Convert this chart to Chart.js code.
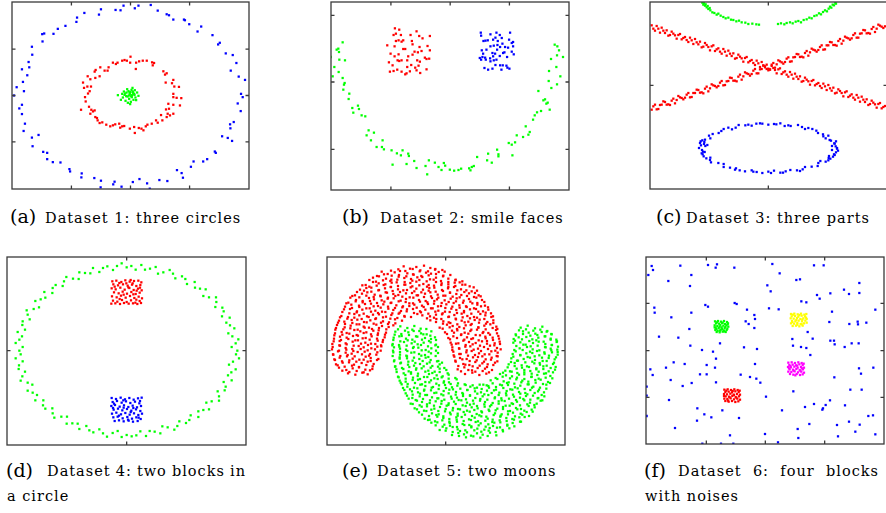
<!DOCTYPE html>
<html>
<head>
<meta charset="utf-8">
<script src="https://cdn.jsdelivr.net/npm/chart.js@4"></script>
<style>
  body { margin: 0; background: #fff; width: 886px; height: 513px; position: relative; overflow: hidden; }
  canvas { position: absolute; }
  .lab { position: absolute; font-family: "DejaVu Serif", serif; font-size: 19px; line-height: 1; white-space: nowrap; }
  .cap { position: absolute; font-family: "DejaVu Serif", serif; font-size: 14.5px; letter-spacing: 1px; line-height: 1; white-space: nowrap; }
  .just { display: flex; justify-content: space-between; }
</style>
</head>
<body>
<script>
// (a) three circles
const aOuter = [[-2.1,27.1],[2.4,27.1],[6.1,27.3],[1.3,26.3],[-4.5,25.8],[-3.0,25.7],[-8.9,26.0],[8.2,25.6],[10.9,24.5],[11.6,24.2],[-9.5,24.4],[-13.9,24.9],[-16.1,23.5],[-16.3,22.2],[12.9,22.9],[16.1,22.9],[16.4,22.7],[17.7,21.5],[-19.6,21.0],[-21.9,20.1],[-23.2,18.6],[-26.0,18.7],[-26.6,18.5],[-26.5,16.3],[21.3,20.8],[20.2,19.3],[24.7,18.2],[26.9,15.9],[26.4,15.4],[-29.7,14.7],[-29.6,12.3],[-30.7,10.1],[-30.5,8.5],[-32.7,7.9],[-31.1,6.1],[-32.4,4.1],[-34.3,2.5],[-32.1,1.3],[-35.1,0.0],[-33.5,-3.9],[-32.7,-2.8],[-32.7,-5.6],[-31.8,-8.5],[-32.2,-10.7],[-29.7,-12.7],[-27.7,-11.9],[-29.5,-15.3],[-26.3,-17.0],[-25.1,-17.3],[-25.1,-19.2],[-23.4,-20.1],[-21.1,-20.2],[-18.4,-22.2],[-18.2,-22.9],[-14.7,-23.5],[-14.8,-24.7],[-10.9,-24.9],[-8.9,-25.7],[-9.0,-27.7],[-4.8,-26.0],[-5.2,-26.8],[-2.7,-27.5],[0.7,-26.1],[2.7,-25.2],[5.0,-26.5],[5.8,-28.1],[8.7,-25.5],[11.1,-25.8],[14.0,-22.5],[15.4,-23.4],[15.8,-24.8],[18.2,-21.5],[19.0,-19.9],[21.9,-19.9],[23.1,-19.2],[25.4,-16.9],[25.7,-17.3],[27.6,-12.3],[29.3,-12.8],[30.6,-13.7],[30.0,-8.7],[30.1,-9.9],[31.1,-8.0],[33.2,-4.7],[32.3,-2.4],[33.3,0.5],[33.8,-0.5],[34.5,4.7],[32.6,5.7],[31.9,9.8],[30.2,7.5],[28.7,12.7],[30.8,12.2]];
const aMiddle = [[0,11.7],[-2.5,10.5],[-1.8,10.7],[-1.1,10.5],[-0.1,9.9],[1.7,9.9],[2.6,10.3],[3.7,10.5],[4.9,10.5],[6.5,10.0],[7.1,9.8],[6.7,9.1],[1.6,8.0],[-3.9,9.9],[-5.3,9.9],[-4.4,9.5],[-6.6,8.5],[-6.9,7.5],[-7.8,7.5],[-9.1,8.5],[-10.5,7.7],[-10.8,7.2],[-9.3,5.8],[-10.6,5.3],[-12.1,4.9],[-12.9,5.8],[-14.3,3.9],[-14.0,2.3],[-13.0,2.7],[-11.9,2.7],[-12.3,1.3],[-12.8,0.6],[-13.7,-0.5],[-13.5,-1.8],[-14.9,-4.3],[-12.5,-3.4],[-11.8,-4.3],[-11.3,-4.8],[-10.8,-4.5],[-12.1,-5.5],[-10.6,-6.5],[-10.1,-6.8],[-9.9,-7.5],[-9.3,-8.3],[-8.5,-8.1],[-7.3,-8.8],[-6.1,-9.3],[-5.3,-9.0],[-4.6,-8.7],[-3.4,-8.5],[-3.1,-9.7],[-2.5,-9.3],[-1.9,-9.2],[-0.2,-10.0],[1.1,-9.5],[1.3,-11.3],[2.5,-9.8],[3.3,-10.0],[3.9,-10.5],[4.6,-9.3],[5.1,-8.8],[6.4,-8.5],[7.7,-7.5],[8.2,-8.2],[9.6,-7.5],[9.2,-5.9],[10.9,-6.5],[11.2,-5.5],[11.9,-6.0],[12.9,-5.5],[11.6,-4.0],[10.7,-4.2],[11.4,-2.5],[12.9,-2.8],[14.9,-3.0],[13.9,-0.7],[12.9,-0.5],[15.3,-0.8],[12.9,0.5],[14.6,2.6],[13.2,2.7],[12.5,3.7],[12.9,4.7],[10.6,3.9],[9.9,7.3],[10.9,6.7],[10.4,6.3]];
const aInner = [[-0.6,1.3],[0.3,1.7],[-1.2,0.9],[0.8,0.8],[-0.2,0.4],[1.2,0.2],[-1.8,0.2],[-0.9,-0.3],[0.4,-0.5],[1.5,-0.6],[-2.3,-0.6],[-0.4,-1.0],[0.9,-1.3],[-1.5,-1.6],[0.1,-1.9],[2.0,0.9],[-2.9,-1.3],[-3.8,0.1],[-0.1,-2.6],[1.1,0.5],[-1.0,1.9],[0.6,2.3],[-0.3,0.9],[0.5,0.1],[-1.3,-0.2],[2.4,-0.1],[-2.0,1.2],[1.7,-1.4],[-0.8,-2.2],[0.2,-0.2],[-0.5,0.0],[0.7,1.2],[-1.6,0.6],[1.3,1.6],[-2.5,0.5],[0.0,1.0]];

// (b) smile faces
const bMouth = [[-35.9,7.5],[-35.3,1.7],[-34.8,4.5],[-34.1,9.7],[-33.6,10.0],[-33.4,9.0],[-33.3,6.7],[-33.5,3.0],[-32.3,11.9],[-32.3,1.2],[-31.9,-0.8],[-31.7,-0.3],[-32.1,-2.3],[-31.6,6.5],[-30.3,-3.5],[-30.5,-5.1],[-29.4,-7.8],[-29.1,-9.2],[-27.7,-7.1],[-27.4,-8.1],[-26.6,-10.0],[-25.5,-10.3],[-24.5,-14.5],[-25.1,-16.0],[-23.8,-17.5],[-22.9,-15.2],[-22.1,-19.5],[-20.5,-19.5],[-20.3,-17.5],[-19.9,-20.2],[-17.6,-20.5],[-17.3,-24.8],[-16.0,-21.4],[-14.8,-22.0],[-14.3,-20.5],[-12.6,-21.5],[-12.4,-22.2],[-13.1,-24.6],[-10.8,-23.7],[-10.1,-25.8],[-7.4,-25.2],[-6.9,-27.7],[-6.4,-23.5],[-4.6,-24.2],[-3.5,-25.5],[-2.6,-26.4],[-1.9,-24.3],[-1.5,-25.1],[-0.1,-26.3],[1.2,-26.6],[2.5,-26.4],[3.3,-26.0],[5.7,-25.9],[6.1,-26.5],[6.5,-25.5],[7.1,-25.2],[8.1,-22.5],[11.1,-23.5],[11.4,-21.5],[12.5,-24.2],[14.1,-20.3],[14.5,-22.3],[14.5,-21.7],[17.6,-18.3],[18.5,-18.8],[18.7,-22.0],[19.5,-18.1],[20.0,-16.0],[21.9,-16.5],[22.7,-13.3],[23.5,-15.8],[23.9,-15.0],[24.9,-11.3],[25.4,-10.0],[26.1,-9.1],[27.3,-8.7],[28.0,-5.5],[28.5,-5.2],[29.3,-6.2],[29.9,-8.3],[28.9,-6.5],[26.5,-2.7],[29.6,0.3],[29.7,3.3],[30.4,-1.8],[30.3,6.9],[31.4,11.2],[32.2,10.7],[32.1,8.0],[32.7,9.5],[31.9,4.5],[33.1,1.7],[32.1,-0.7],[33.9,7.5]];
const bLeftEye = [[-16.6,16.1],[-15.3,15.7],[-16.3,14.5],[-14.8,14.1],[-17.0,14.1],[-11.9,14.1],[-10.1,15.2],[-9.3,13.8],[-6.1,13.8],[-14.1,12.5],[-15.5,12.5],[-16.3,12.3],[-14.6,12.1],[-11.5,12.3],[-8.3,13.1],[-18.9,11.0],[-16.7,10.7],[-14.1,9.9],[-13.5,9.9],[-11.3,11.3],[-9.2,10.5],[-10.7,9.1],[-9.7,8.9],[-6.8,10.8],[-17.9,8.5],[-15.5,8.3],[-11.3,8.2],[-8.6,9.3],[-6.1,9.5],[-16.7,7.7],[-15.8,6.5],[-14.6,6.5],[-12.6,7.7],[-12.9,6.5],[-9.9,6.5],[-9.1,6.1],[-7.6,7.3],[-7.1,6.9],[-6.3,7.0],[-18.4,5.9],[-15.3,6.3],[-11.7,5.1],[-10.5,4.3],[-9.5,4.9],[-7.1,3.8],[-18.1,3.1],[-17.0,3.3],[-15.9,3.7],[-14.6,3.1],[-13.5,2.3],[-13.1,2.6],[-12.1,3.2],[-10.1,3.5],[-9.0,2.7],[-12.9,4.5],[-17.3,5.0]];
const bRightEye = [[9.2,14.8],[9.3,13.9],[10.0,12.3],[10.6,12.4],[12.1,14.3],[13.9,14.8],[13.6,13.3],[14.9,14.1],[15.5,13.2],[18.0,14.8],[17.7,12.7],[18.9,12.0],[18.5,11.7],[11.3,12.5],[12.9,12.7],[14.3,12.3],[15.7,11.5],[12.1,10.7],[13.1,10.9],[14.2,11.1],[15.0,10.5],[16.5,10.5],[17.4,10.3],[18.9,10.7],[9.5,9.5],[10.9,9.7],[12.7,8.7],[13.5,8.5],[15.9,8.7],[16.3,8.9],[18.5,9.1],[19.1,8.3],[8.9,7.2],[9.7,7.5],[10.5,7.3],[12.0,7.1],[12.9,7.7],[13.9,6.7],[14.9,7.8],[17.1,7.5],[9.3,6.7],[12.1,6.2],[13.1,6.5],[10.7,6.7],[15.0,5.0],[15.8,5.0],[17.2,4.3],[17.8,4.0],[10.3,4.2],[11.4,3.7],[12.7,4.0],[13.6,5.1],[15.4,3.7],[16.9,4.9],[9.9,8.5],[14.1,9.7]];

// (c) three parts
const cArc = [[-19.8,24.8],[-19.5,24.2],[-19.3,24.6],[-19.0,23.9],[-18.8,24.3],[-18.5,23.4],[-18.2,23.8],[-18.0,22.9],[-17.6,23.2],[-17.4,22.5],[-16.8,21.9],[-16.2,21.7],[-15.5,21.2],[-15.0,21.5],[-14.3,20.9],[-13.5,20.5],[-12.8,20.1],[-12.0,20.3],[-11.2,19.7],[-10.5,19.6],[-9.6,19.2],[-8.8,19.4],[-8.0,18.9],[-6.9,18.8],[-6.0,18.4],[-4.8,18.5],[-3.6,18.3],[-2.8,18.2],[2.9,18.4],[3.8,18.6],[4.8,18.3],[5.5,18.7],[6.5,18.9],[7.3,18.6],[8.2,19.1],[9.0,19.3],[9.8,18.9],[10.6,19.6],[11.5,19.8],[12.3,20.3],[13.0,20.1],[13.8,20.8],[14.5,21.0],[15.2,21.6],[15.8,21.3],[16.4,22.0],[17.0,22.5],[17.6,22.2],[18.1,23.0],[18.5,23.6],[18.9,23.3],[19.3,24.2],[19.7,24.0],[20.1,24.7],[20.3,24.5]];
const cFalling = [[-35,18.0],[-34,16.4],[-33,17.0],[-32,17.3],[-31,15.7],[-30,14.9],[-29,16.1],[-28,15.0],[-27,15.1],[-26,13.8],[-25,14.5],[-24,13.0],[-23,13.5],[-22,13.9],[-21,12.3],[-20,11.4],[-19,12.7],[-18,11.5],[-17,11.7],[-16,10.3],[-15,11.1],[-14,9.5],[-13,10.1],[-12,10.4],[-11,8.8],[-10,8.0],[-9,9.2],[-8,8.1],[-7,8.2],[-6,6.9],[-5,7.6],[-4,6.1],[-3,6.6],[-2,7.0],[-1,5.4],[0,4.5],[1,5.8],[2,4.6],[3,4.8],[4,3.4],[5,4.2],[6,2.6],[7,3.2],[8,3.5],[9,1.9],[10,1.1],[11,2.3],[12,1.2],[13,1.3],[14,0.0],[15,0.7],[16,-0.8],[17,-0.3],[18,0.1],[19,-1.6],[20,-2.4],[21,-1.2],[22,-2.3],[23,-2.1],[24,-3.5],[25,-2.7],[26,-4.3],[27,-3.7],[28,-3.4],[29,-5.0],[30,-5.9],[31,-4.6],[32,-5.7],[33,-5.6],[34,-6.9],[35,-6.2],
  [-34.5,17.0],[-33.5,17.8],[-32.5,15.8],[-31.5,16.4],[-30.5,16.5],[-29.5,15.1],[-28.5,15.5],[-27.5,14.0],[-26.5,15.4],[-25.5,14.2],[-24.5,13.6],[-23.5,14.3],[-22.5,12.4],[-21.5,12.9],[-20.5,13.1],[-19.5,11.6],[-18.5,12.1],[-17.5,10.5],[-16.5,12.0],[-15.5,10.8],[-14.5,10.1],[-13.5,10.9],[-12.5,8.9],[-11.5,9.5],[-10.5,9.6],[-9.5,8.2],[-8.5,8.6],[-7.5,7.1],[-6.5,8.5],[-5.5,7.3],[-4.5,6.7],[-3.5,7.4],[-2.5,5.5],[-1.5,6.0],[-0.5,6.2],[0.5,4.7],[1.5,5.2],[2.5,3.6],[3.5,5.1],[4.5,3.9],[5.5,3.2],[6.5,4.0],[7.5,2.0],[8.5,2.6],[9.5,2.7],[10.5,1.3],[11.5,1.7],[12.5,0.2],[13.5,1.6],[14.5,0.4],[15.5,-0.2],[16.5,0.5],[17.5,-1.4],[18.5,-0.9],[19.5,-0.7],[20.5,-2.2],[21.5,-1.7],[22.5,-3.3],[23.5,-1.8],[24.5,-3.1],[25.5,-3.7],[26.5,-2.9],[27.5,-4.9],[28.5,-4.3],[29.5,-4.2],[30.5,-5.6],[31.5,-5.2],[32.5,-6.7],[33.5,-5.3],[34.5,-6.5]];
const cRising = [[-35,-7.3],[-34,-5.8],[-33,-7.1],[-32,-5.8],[-31,-5.0],[-30,-5.7],[-29,-4.6],[-28,-5.4],[-27,-3.2],[-26,-3.8],[-25,-3.7],[-24,-2.3],[-23,-3.5],[-22,-2.3],[-21,-1.4],[-20,-2.1],[-19,-1.0],[-18,-1.8],[-17,0.3],[-16,-0.2],[-15,-0.2],[-14,1.3],[-13,0.1],[-12,1.3],[-11,2.2],[-10,1.4],[-9,2.6],[-8,1.7],[-7,3.9],[-6,3.4],[-5,3.4],[-4,4.9],[-3,3.6],[-2,4.9],[-1,5.7],[0,5.0],[1,6.2],[2,5.3],[3,7.5],[4,6.9],[5,7.0],[6,8.4],[7,7.2],[8,8.5],[9,9.3],[10,8.6],[11,9.7],[12,8.9],[13,11.0],[14,10.5],[15,10.6],[16,12.0],[17,10.8],[18,12.0],[19,12.9],[20,12.1],[21,13.3],[22,12.5],[23,14.6],[24,14.1],[25,14.1],[26,15.6],[27,14.3],[28,15.6],[29,16.5],[30,15.7],[31,16.9],[32,16.0],[33,18.2],[34,17.6],[35,17.7],
  [-34.5,-6.3],[-33.5,-7.2],[-32.5,-5.9],[-31.5,-4.8],[-30.5,-5.8],[-29.5,-5.9],[-28.5,-4.0],[-27.5,-4.4],[-26.5,-3.6],[-25.5,-4.2],[-24.5,-2.8],[-23.5,-3.6],[-22.5,-2.3],[-21.5,-1.3],[-20.5,-2.2],[-19.5,-2.4],[-18.5,-0.4],[-17.5,-0.9],[-16.5,0.0],[-15.5,-0.6],[-14.5,0.8],[-13.5,0.0],[-12.5,1.2],[-11.5,2.3],[-10.5,1.4],[-9.5,1.2],[-8.5,3.2],[-7.5,2.7],[-6.5,3.6],[-5.5,2.9],[-4.5,4.4],[-3.5,3.6],[-2.5,4.8],[-1.5,5.9],[-0.5,4.9],[0.5,4.8],[1.5,6.7],[2.5,6.3],[3.5,7.2],[4.5,6.5],[5.5,8.0],[6.5,7.1],[7.5,8.4],[8.5,9.4],[9.5,8.5],[10.5,8.4],[11.5,10.3],[12.5,9.9],[13.5,10.7],[14.5,10.1],[15.5,11.5],[16.5,10.7],[17.5,12.0],[18.5,13.0],[19.5,12.1],[20.5,11.9],[21.5,13.9],[22.5,13.4],[23.5,14.3],[24.5,13.7],[25.5,15.1],[26.5,14.3],[27.5,15.5],[28.5,16.6],[29.5,15.6],[30.5,15.5],[31.5,17.5],[32.5,17.0],[33.5,17.9],[34.5,17.2]];
const cRing = [[20.6,-18.8],[19.1,-18.2],[19.9,-17.5],[20.3,-16.8],[18.4,-16.4],[17.2,-15.9],[18.0,-15.1],[16.4,-14.7],[14.9,-14.3],[14.4,-13.6],[13.2,-13.1],[11.0,-13.1],[10.1,-12.5],[8.9,-11.9],[6.7,-12.2],[4.9,-12.2],[3.6,-11.4],[1.7,-11.6],[0.0,-11.8],[-1.8,-11.5],[-3.6,-11.5],[-5.0,-12.1],[-6.9,-12.0],[-8.9,-11.9],[-9.8,-12.7],[-10.9,-13.2],[-13.4,-13.1],[-14.1,-13.7],[-14.9,-14.3],[-16.7,-14.6],[-17.8,-15.1],[-17.4,-15.9],[-19.0,-16.3],[-20.3,-16.8],[-19.3,-17.6],[-18.9,-18.2],[-20.8,-18.8],[-19.9,-19.4],[-19.1,-20.0],[-19.7,-20.7],[-19.4,-21.3],[-17.4,-21.7],[-17.5,-22.4],[-17.2,-23.1],[-15.0,-23.3],[-13.4,-23.6],[-13.4,-24.5],[-11.5,-24.7],[-9.7,-24.9],[-8.6,-25.5],[-7.0,-25.8],[-5.0,-25.5],[-3.5,-26.0],[-1.8,-26.3],[0.0,-25.9],[1.7,-25.6],[3.6,-26.2],[5.2,-25.8],[6.6,-25.4],[8.6,-25.5],[10.3,-25.2],[11.0,-24.5],[13.0,-24.4],[14.8,-24.2],[15.0,-23.3],[15.6,-22.7],[18.0,-22.5],[18.1,-21.8],[18.2,-21.2],[19.7,-20.7],[20.3,-20.1],[19.1,-19.4],
  [-20.2,-18.0],[-19.6,-19.9],[-20.5,-17.3],[-19.2,-17.0],[-20.0,-20.4],[-18.6,-21.9],[-19.8,-16.5],[-18.3,-17.9],[19.8,-17.4],[20.9,-19.6],[19.4,-21.4],[20.2,-18.3],[18.8,-16.6],[19.9,-20.9],[20.6,-19.0],[18.6,-22.0],[17.2,-22.9],[16.5,-15.3],[-2.5,-11.4],[2.4,-11.7],[-6.0,-11.8],[6.0,-12.0],[-12.0,-12.7],[12.0,-12.8],[-4.5,-25.9],[4.4,-26.2],[-10.0,-25.3],[9.5,-25.7],[0.8,-26.3]];

// (d) two blocks in a circle
const dRing = [[33.2,0],[31.5,1.1],[32.7,2.2],[33.5,3.4],[31.7,4.3],[30.5,5.2],[32.3,6.7],[31.0,7.6],[29.9,8.4],[30.9,9.9],[28.6,10.3],[29.1,11.8],[28.7,12.9],[26.6,13.1],[26.9,14.6],[26.8,16.0],[24.7,16.0],[23.0,16.4],[23.7,18.4],[22.0,18.6],[20.5,18.9],[20.4,20.6],[18.1,20.0],[17.6,21.5],[16.6,22.3],[14.6,21.7],[13.9,23.1],[12.9,24.2],[11.0,23.5],[9.4,23.1],[8.7,25.1],[7.0,24.6],[5.5,24.3],[4.4,25.7],[2.7,24.3],[1.4,25.4],
  [-32.2,0],[-31.2,1.1],[-33.3,2.3],[-32.2,3.3],[-31.4,4.3],[-32.7,5.6],[-30.5,6.3],[-31.3,7.7],[-31.2,8.8],[-29.1,9.4],[-29.7,10.8],[-30.0,12.1],[-27.9,12.5],[-26.3,13.0],[-27.4,14.9],[-25.8,15.4],[-24.4,15.9],[-24.7,17.6],[-22.3,17.3],[-22.2,18.8],[-21.3,19.7],[-19.2,19.4],[-18.8,20.8],[-18.1,22.1],[-16.1,21.6],[-14.4,21.5],[-14.2,23.5],[-12.5,23.3],[-10.9,23.2],[-10.1,24.8],[-8.2,23.6],[-7.1,24.8],[-5.8,25.3],[-4.1,24.2],[-2.9,25.4],[-1.5,26.2],
  [-31.8,-1.1],[-33.3,-2.3],[-31.2,-3.2],[-32.3,-4.4],[-32.4,-5.5],[-30.5,-6.3],[-31.3,-7.7],[-31.8,-9.0],[-29.7,-9.6],[-28.3,-10.2],[-29.7,-12.0],[-28.2,-12.6],[-26.9,-13.3],[-27.4,-14.9],[-25.0,-14.9],[-25.1,-16.4],[-24.4,-17.4],[-22.3,-17.3],[-22.2,-18.8],[-21.7,-20.1],[-19.6,-19.8],[-17.9,-19.8],[-18.0,-21.9],[-16.3,-21.8],[-14.7,-21.9],[-14.2,-23.5],[-12.1,-22.6],[-11.2,-23.9],[-10.0,-24.5],[-8.2,-23.6],[-7.1,-24.8],[-5.9,-25.8],[-4.2,-24.7],[-2.7,-24.1],[-1.5,-25.9],
  [32.8,-1.1],[33.7,-2.3],[31.9,-3.3],[30.7,-4.2],[32.7,-5.6],[31.4,-6.5],[30.4,-7.4],[31.5,-8.9],[29.1,-9.4],[29.7,-10.8],[29.4,-11.9],[27.3,-12.2],[27.7,-13.7],[27.7,-15.0],[25.5,-15.2],[23.9,-15.6],[24.7,-17.6],[23.0,-17.8],[21.5,-18.2],[21.5,-19.9],[19.2,-19.4],[18.8,-20.8],[17.8,-21.7],[15.8,-21.2],[15.2,-22.6],[14.3,-23.7],[12.3,-23.0],[10.7,-22.7],[10.1,-24.8],[8.4,-24.3],[6.9,-24.1],[5.8,-25.6],[4.1,-24.2],[2.9,-25.4],[1.5,-25.7],
  [0,25.0],[0,-25.3]];
const dTopBlock = [[-4.3,20.8],[-3.1,21.0],[-1.6,20.6],[-0.4,21.1],[0.9,20.7],[2.2,20.9],[3.5,21.0],[4.4,20.5],[-4.0,19.9],[-2.6,19.6],[-1.1,19.9],[0.3,19.5],[1.6,19.8],[2.9,19.4],[4.1,19.7],[-4.5,18.7],[-3.3,18.4],[-1.9,18.9],[-0.6,18.3],[0.8,18.8],[2.1,18.2],[3.4,18.6],[4.5,18.1],[-3.8,17.5],[-2.4,17.2],[-1.2,17.7],[0.1,17.1],[1.4,17.6],[2.7,17.0],[3.9,17.4],[-4.4,16.3],[-3.0,16.0],[-1.7,16.5],[-0.3,15.9],[1.0,16.4],[2.3,15.8],[3.6,16.2],[4.6,15.7],[-4.1,15.0],[-2.8,14.7],[-1.4,15.2],[0.0,14.6],[1.3,15.1],[2.6,14.4],[3.9,14.9],[-4.6,14.1],[-3.4,14.2],[-2.0,14.0],[-0.8,14.3],[0.6,14.1],[1.9,14.2],[3.2,14.0],[4.3,14.3],[-3.6,19.2],[-2.2,20.3],[1.2,21.2],[3.0,18.0],[-0.9,16.8],[2.0,16.9],[4.0,18.9],[-2.1,15.5],[0.5,19.0],[-0.1,20.2],[1.8,20.2],[2.9,15.3]];
const dBottomBlock = [[-4.5,-14.2],[-3.2,-14.5],[-1.8,-14.1],[-0.5,-14.6],[0.8,-14.2],[2.1,-14.7],[3.4,-14.3],[4.5,-14.1],[-4.2,-15.4],[-2.9,-15.1],[-1.5,-15.6],[-0.2,-15.2],[1.1,-15.7],[2.5,-15.3],[3.8,-15.8],[-4.6,-16.6],[-3.5,-16.3],[-2.1,-16.8],[-0.8,-16.4],[0.5,-16.9],[1.8,-16.5],[3.1,-17.0],[4.3,-16.6],[-3.9,-17.7],[-2.6,-17.4],[-1.3,-17.9],[0.1,-17.5],[1.4,-18.0],[2.8,-17.6],[4.1,-18.1],[-4.4,-18.9],[-3.1,-18.6],[-1.7,-19.1],[-0.4,-18.7],[0.9,-19.2],[2.2,-18.8],[3.5,-19.3],[4.6,-18.9],[-4.0,-20.0],[-2.7,-19.8],[-1.2,-20.3],[0.2,-19.9],[1.6,-20.4],[2.9,-20.0],[4.2,-20.5],[-3.6,-21.1],[-2.3,-20.9],[-0.9,-21.2],[0.6,-21.0],[1.9,-21.3],[3.3,-21.1],[-3.8,-15.9],[-0.9,-17.1],[2.0,-17.2],[-2.3,-19.5],[1.2,-18.4],[3.6,-20.1],[-1.0,-14.9],[4.0,-15.1],[-4.1,-17.2],[0.4,-20.7]];

// (e) two moons
const eUpperMoon = [[-12.6,25.3],[-10.7,24.6],[-8.8,25.1],[-6.5,25.5],[-4.6,24.8],[-3.1,24.5],
  [-19.2,23.7],[-17.4,23.0],[-15.3,23.5],[-13.7,23.9],[-11.5,23.2],[-9.8,22.9],[-7.8,23.8],[-5.9,23.4],[-4.4,23.1],[-2.1,23.6],[-0.3,23.7],
  [-21.8,21.9],[-20.0,22.3],[-17.9,21.6],[-16.3,21.3],[-14.1,22.2],[-12.4,21.8],[-10.4,21.5],[-8.5,22.0],[-7.0,22.1],[-4.7,21.4],[-2.9,21.9],[-0.8,22.3],[0.8,21.6],[3.0,21.3],
  [-24.0,19.7],[-21.8,20.6],[-20.1,20.2],[-18.1,19.9],[-16.2,20.4],[-14.7,20.5],[-12.4,19.8],[-10.6,20.3],[-8.8,20.7],[-6.7,20.0],[-5.1,19.7],[-2.9,20.6],[-1.2,20.2],[0.8,19.9],[2.7,20.4],[4.2,20.5],[5.9,19.8],
  [-25.7,18.3],[-23.8,18.8],[-22.3,18.9],[-20.0,18.2],[-18.2,18.7],[-16.4,19.1],[-14.3,18.4],[-12.7,18.1],[-10.5,19.0],[-8.8,18.6],[-6.8,18.3],[-4.9,18.8],[-3.4,18.9],[-1.1,18.2],[0.7,18.7],[2.5,19.1],[4.6,18.4],[6.2,18.1],[8.4,19.0],
  [-27.2,16.6],[-25.1,17.1],[-23.5,17.5],[-21.3,16.8],[-19.6,16.5],[-17.6,17.4],[-15.7,17.0],[-14.2,16.7],[-11.9,17.2],[-10.1,17.3],[-8.3,16.6],[-6.2,17.1],[-4.6,17.5],[-2.4,16.8],[-0.7,16.5],[1.3,17.4],[3.2,17.0],[4.7,16.7],[7.0,17.2],[8.8,17.3],[9.9,16.6],
  [-28.6,15.9],[-26.9,15.2],[-24.9,14.9],[-23.0,15.8],[-21.5,15.4],[-19.2,15.1],[-17.4,15.6],[-15.6,15.7],[-13.5,15.0],[-11.9,15.5],[-9.7,15.9],[-8.0,15.2],[-6.0,14.9],[-4.1,15.8],[-2.6,15.4],[-0.3,15.1],[1.5,15.6],[3.3,15.7],[5.4,15.0],[7.0,15.5],[9.2,15.9],[10.9,15.2],
  [-29.8,14.2],[-28.3,13.8],[-26.0,13.5],[-24.2,14.0],[-22.4,14.1],[-20.3,13.4],[-18.7,13.9],[-16.5,14.3],[-14.8,13.6],[-12.8,13.3],[-10.9,14.2],[-9.4,13.8],[-7.1,13.5],[-5.3,14.0],[-3.5,14.1],[-1.4,13.4],[0.2,13.9],[2.4,14.3],[4.1,13.6],[6.1,13.3],[8.0,14.2],[9.5,13.8],[11.8,13.5],
  [-30.5,12.4],[-28.7,12.5],[-26.6,11.8],[-25.0,12.3],[-22.8,12.7],[-21.1,12.0],[-19.1,11.7],[-17.2,12.6],[-15.7,12.2],[-13.4,11.9],[-11.6,12.4],[-9.8,12.5],[-7.7,11.8],[-6.1,12.3],[-3.9,12.7],[-2.2,12.0],[-0.2,11.7],[1.7,12.6],[3.2,12.2],[5.5,11.9],[7.3,12.4],[9.1,12.5],[11.2,11.8],[12.8,12.3],
  [-31.3,10.4],[-29.3,10.1],[-27.4,11.0],[-25.9,10.6],[-23.6,10.3],[-21.8,10.8],[-20.0,10.9],[-17.9,10.2],[-16.3,10.7],[-14.1,11.1],[-12.4,10.4],[-10.4,10.1],[-8.5,11.0],[-7.0,10.6],[-4.7,10.3],[-2.9,10.8],[-1.1,10.9],[1.0,10.2],[2.6,10.7],[4.8,11.1],[6.5,10.4],[8.5,10.1],[10.4,11.0],[11.9,10.6],[14.2,10.3],
  [-32.0,9.0],[-30.4,8.7],[-28.2,9.2],[-26.5,9.3],[-24.5,8.6],[-22.6,9.1],[-21.1,9.5],[-18.8,8.8],[-17.0,8.5],[-15.2,9.4],[-13.1,9.0],[-4.6,9.1],[-2.8,9.5],[-0.7,8.8],[0.9,8.5],[3.1,9.4],[4.8,9.0],[6.8,8.7],[8.7,9.2],[10.2,9.3],[12.5,8.6],[14.3,9.1],
  [-32.6,7.7],[-30.3,7.0],[-28.5,7.5],[-26.7,7.9],[-24.6,7.2],[-23.0,6.9],[-20.8,7.8],[-19.1,7.4],[-17.1,7.1],[-15.7,7.6],[-1.8,6.9],[0.4,7.8],[2.1,7.4],[4.1,7.1],[6.0,7.6],[7.5,7.7],[9.8,7.0],[11.6,7.5],[13.4,7.9],[15.2,7.2],
  [-33.1,6.3],[-31.2,5.6],[-29.7,5.3],[-27.4,6.2],[-25.6,5.8],[-23.8,5.5],[-21.7,6.0],[-20.1,6.1],[-17.9,5.4],[-0.2,5.5],[1.9,6.0],[3.5,6.1],[5.7,5.4],[7.4,5.9],[9.4,6.3],[11.3,5.6],[12.8,5.3],[15.1,6.2],
  [-33.4,4.6],[-31.7,4.2],[-29.7,3.9],[-27.8,4.4],[-26.3,4.5],[-24.0,3.8],[-22.2,4.3],[-20.4,4.7],[-18.3,4.0],[0.8,3.8],[2.3,4.3],[4.6,4.7],[6.4,4.0],[8.2,3.7],[10.3,4.6],[11.9,4.2],[14.1,3.9],[15.8,4.4],
  [-33.6,2.8],[-31.8,2.9],[-30.0,2.2],[-27.9,2.7],[-26.3,3.1],[-24.1,2.4],[-22.4,2.1],[-20.4,3.0],[-18.9,2.6],[1.5,2.4],[3.1,2.1],[5.3,3.0],[7.0,2.6],[9.0,2.3],[10.9,2.8],[12.4,2.9],[14.7,2.2],[16.2,2.7],
  [-33.9,1.1],[-31.7,1.5],[-30.0,0.8],[-28.0,0.5],[-26.1,1.4],[-24.6,1.0],[-22.3,0.7],[-20.5,1.2],[-19.3,1.3],[2.0,1.0],[4.0,0.7],[5.9,1.2],[7.4,1.3],[9.7,0.6],[11.5,1.1],[13.3,1.5],[15.4,0.8],
  [-33.8,-1.1],[-32.3,-0.2],[-30.0,-0.6],[-28.2,-0.9],[-26.4,-0.4],[-24.3,-0.3],[-22.7,-1.0],[-20.5,-0.5],[2.3,-0.3],[4.1,-1.0],[6.2,-0.5],[7.8,-0.1],[10.0,-0.8],[11.7,-1.1],[13.7,-0.2],[15.6,-0.6],
  [-33.4,-2.6],[-31.8,-2.1],[-29.6,-1.7],[-27.9,-2.4],[-25.9,-2.7],[-24.0,-1.8],[-22.5,-2.2],[-20.2,-2.5],[2.6,-1.8],[4.3,-2.2],[6.3,-2.5],[8.2,-2.0],[9.7,-1.9],[12.0,-2.6],[13.8,-2.1],[15.6,-1.7],
  [-32.9,-4.1],[-30.9,-3.6],[-29.0,-3.5],[-27.5,-4.2],[-25.2,-3.7],[-23.4,-3.3],[-21.6,-4.0],[3.0,-3.3],[5.3,-4.0],[7.1,-4.3],[8.9,-3.4],[11.0,-3.8],[12.6,-4.1],[14.8,-3.6],
  [-32.0,-5.1],[-29.8,-5.8],[-27.9,-5.3],[-26.0,-5.0],[-24.1,-5.7],[-22.0,-5.5],[3.6,-5.6],[5.6,-5.0],[7.9,-5.9],[9.6,-5.2],[11.8,-5.4],[13.9,-5.8],
  [-29.3,-6.8],[-27.1,-7.2],[-25.0,-6.6],[-23.4,-7.1],[5.8,-7.0],[8.0,-6.6],[10.1,-7.3],[12.2,-6.9]];
const eUpperMoonFill = [[-16.4,24.0],[-14.2,24.4],[-12.1,23.9],[-9.9,24.5],[-7.6,24.1],[-5.3,23.8],[-3.2,24.3],[-1.0,24.2],
  [-20.6,22.4],[-18.5,22.9],[-16.2,22.5],[-14.0,22.7],[-11.8,22.3],[-9.6,22.8],[-7.3,22.4],[-5.1,22.6],[-2.9,23.0],[-0.7,22.5],[1.4,22.7],
  [-22.9,21.2],[-20.9,20.7],[-18.8,21.1],[-16.6,20.9],[-14.5,21.3],[-12.3,20.6],[-10.0,21.0],[-7.9,21.2],[-5.7,20.8],[-3.6,21.3],[-1.4,20.9],[0.8,20.6],[2.9,21.1],[5.0,20.8],
  [-25.0,19.6],[-22.9,19.2],[-20.7,19.5],[-18.6,19.7],[-16.5,19.1],[-14.3,19.4],[-12.1,19.8],[-10.0,19.3],[-7.9,19.6],[-5.6,19.2],[-3.5,19.5],[-1.3,19.7],[0.8,19.1],[2.9,19.4],[5.0,19.8],[7.2,19.3],
  [-26.6,17.6],[-24.5,18.0],[-22.3,17.7],[-20.2,18.1],[-18.0,17.5],[-15.9,17.9],[-13.7,17.6],[-11.6,18.2],[-9.4,17.8],[-7.3,17.5],[-5.1,18.0],[-3.0,17.7],[-0.8,17.9],[1.3,17.4],[3.5,18.1],[5.6,17.6],[7.8,17.8],[9.4,18.0],
  [-28.0,16.4],[-25.9,16.0],[-23.8,16.5],[-21.6,16.1],[-19.5,16.3],[-17.3,15.9],[-15.1,16.4],[-13.0,16.2],[-10.8,16.0],[-8.7,16.6],[-6.5,16.1],[-4.4,16.3],[-2.2,15.9],[-0.1,16.5],[2.1,16.2],[4.2,16.0],[6.4,16.4],[8.5,16.1],[10.5,16.3],
  [-29.2,14.4],[-27.0,14.8],[-24.9,14.5],[-22.7,14.9],[-20.6,14.3],[-18.4,14.7],[-16.3,14.4],[-14.1,14.8],[-12.0,14.6],[-9.8,14.2],[-7.7,14.7],[-5.5,14.5],[-3.4,14.9],[-1.2,14.3],[0.9,14.6],[3.1,14.8],[5.2,14.4],[7.4,14.7],[9.5,14.3],[11.6,14.6],
  [-30.2,13.2],[-28.1,12.8],[-25.9,13.1],[-23.8,12.7],[-21.6,13.3],[-19.5,12.9],[-17.3,13.2],[-15.2,12.8],[-13.0,13.0],[-10.9,13.4],[-8.7,12.9],[-6.6,13.1],[-4.4,12.7],[-2.3,13.3],[-0.1,12.8],[2.0,13.2],[4.2,12.9],[6.3,13.1],[8.5,12.7],[10.6,13.3],[12.7,13.0],
  [-31.0,11.6],[-28.9,11.2],[-26.7,11.5],[-24.6,11.1],[-22.4,11.7],[-20.3,11.3],[-18.1,11.6],[-16.0,11.2],[-13.8,11.4],[-11.7,11.8],[-9.5,11.3],[-7.4,11.5],[-5.2,11.1],[-3.1,11.7],[-0.9,11.2],[1.2,11.6],[3.4,11.3],[5.5,11.5],[7.7,11.1],[9.8,11.7],[12.0,11.4],[13.6,11.2],
  [-31.7,10.0],[-29.5,9.6],[-27.4,9.9],[-25.2,9.5],[-23.1,10.1],[-20.9,9.7],[-18.8,10.0],[-16.6,9.6],[-14.5,9.8],[-12.3,10.2],[-5.6,9.7],[-3.5,9.9],[-1.3,9.5],[0.8,10.1],[3.0,9.6],[5.1,10.0],[7.3,9.7],[9.4,9.9],[11.6,9.5],[13.7,10.1],
  [-32.3,8.4],[-30.2,8.0],[-28.0,8.3],[-25.9,7.9],[-23.7,8.5],[-21.6,8.1],[-19.4,8.4],[-17.3,8.0],[-15.1,8.2],[-2.9,8.6],[-0.8,8.1],[1.4,8.3],[3.5,7.9],[5.7,8.5],[7.8,8.0],[10.0,8.4],[12.1,8.1],[14.3,8.3],
  [-32.9,6.8],[-30.7,6.4],[-28.6,6.7],[-26.4,6.3],[-24.3,6.9],[-22.1,6.5],[-20.0,6.8],[-17.8,6.4],[-0.9,6.6],[1.2,7.0],[3.4,6.5],[5.5,6.7],[7.7,6.3],[9.8,6.9],[12.0,6.4],[14.1,6.8],[15.5,6.5],
  [-33.2,5.2],[-31.0,4.8],[-28.9,5.1],[-26.7,4.7],[-24.6,5.3],[-22.4,4.9],[-20.3,5.2],[-18.2,4.8],[0.4,5.0],[2.5,5.4],[4.7,4.9],[6.8,5.1],[9.0,4.7],[11.1,5.3],[13.3,4.8],[15.4,5.2],
  [-33.5,3.6],[-31.4,3.2],[-29.2,3.5],[-27.1,3.1],[-24.9,3.7],[-22.8,3.3],[-20.6,3.6],[-18.8,3.2],[1.3,3.4],[3.4,3.8],[5.6,3.3],[7.7,3.5],[9.9,3.1],[12.0,3.7],[14.2,3.2],[16.0,3.6],
  [-34.0,2.0],[-31.9,1.6],[-29.7,1.9],[-27.6,1.5],[-25.4,2.1],[-23.3,1.7],[-21.1,2.0],[-19.4,1.6],[1.8,1.8],[3.8,2.2],[6.0,1.7],[8.1,1.9],[10.3,1.5],[12.4,2.1],[14.6,1.6],[16.3,2.0],
  [-34.1,0.4],[-32.0,0.0],[-29.8,0.3],[-27.7,-0.1],[-25.5,0.5],[-23.4,0.1],[-21.2,0.4],[-19.5,0.0],[2.0,0.2],[4.1,0.6],[6.3,0.1],[8.4,0.3],[10.6,-0.1],[12.7,0.5],[14.9,0.0],[16.5,0.4],
  [-33.7,-1.2],[-31.6,-1.6],[-29.4,-1.3],[-27.3,-1.7],[-25.1,-1.1],[-23.0,-1.5],[-20.8,-1.2],[2.4,-1.4],[4.5,-1.0],[6.7,-1.5],[8.8,-1.3],[11.0,-1.7],[13.1,-1.1],[15.3,-1.6],
  [-33.2,-2.8],[-31.1,-3.2],[-28.9,-2.9],[-26.8,-3.3],[-24.6,-2.7],[-22.5,-3.1],[-20.6,-2.8],[2.9,-3.0],[5.0,-2.6],[7.2,-3.1],[9.3,-2.9],[11.5,-3.3],[13.6,-2.7],[15.5,-3.2],
  [-32.4,-4.4],[-30.3,-4.8],[-28.1,-4.5],[-26.0,-4.9],[-23.8,-4.3],[-21.9,-4.7],[3.8,-4.6],[5.9,-4.2],[8.1,-4.7],[10.2,-4.5],[12.4,-4.9],[14.3,-4.3],
  [-31.0,-6.0],[-28.9,-6.4],[-26.7,-6.1],[-24.6,-6.5],[-22.7,-5.9],[4.6,-6.2],[6.8,-5.8],[8.9,-6.3],[11.1,-6.1],[13.0,-6.5]];
const eLowerMoon = [[-13.6,7.3],[-11.5,6.8],[-9.4,7.4],[-7.5,6.6],[22.5,6.9],[24.6,7.5],[26.8,6.7],[29.0,7.2],
  [-15.1,5.7],[-13.3,5.0],[-11.2,5.5],[-9.6,5.9],[-7.4,5.2],[-5.7,4.9],[-4.3,5.8],[21.0,4.9],[23.2,5.8],[24.9,5.4],[26.9,5.1],[28.8,5.6],[30.3,5.7],[31.7,5.0],
  [-15.6,3.9],[-13.9,4.3],[-11.9,3.6],[-10.0,3.3],[-8.5,4.2],[-6.2,3.8],[-4.4,3.5],[-3.2,4.0],[20.4,3.5],[21.9,4.0],[24.2,4.1],[26.0,3.4],[27.8,3.9],[29.9,4.3],[31.5,3.6],[33.2,3.3],
  [-15.9,2.0],[-14.0,1.7],[-12.5,2.6],[-10.2,2.2],[-8.4,1.9],[-6.6,2.4],[-4.5,2.5],[-2.9,1.8],[20.3,2.4],[22.4,2.5],[24.0,1.8],[26.2,2.3],[27.9,2.7],[29.9,2.0],[31.8,1.7],[33.3,2.6],
  [-15.5,1.0],[-13.7,0.6],[-11.9,0.3],[-9.8,0.8],[-8.2,0.9],[-6.0,0.2],[-4.3,0.7],[-2.3,1.1],[20.6,0.2],[22.2,0.7],[24.4,1.1],[26.1,0.4],[28.1,0.1],[30.0,1.0],[31.5,0.6],[33.5,0.3],
  [-15.7,-0.5],[-13.7,-1.2],[-11.8,-1.5],[-10.3,-0.6],[-8.0,-1.0],[-6.2,-1.3],[-4.4,-0.8],[-2.3,-0.7],[20.1,-1.0],[22.4,-1.3],[24.2,-0.8],[26.0,-0.7],[28.1,-1.4],[29.7,-0.9],[31.9,-0.5],[33.6,-1.2],
  [-15.4,-2.9],[-13.8,-2.4],[-11.6,-2.3],[-9.9,-3.0],[-7.9,-2.5],[-6.0,-2.1],[-4.5,-2.8],[-2.2,-3.1],[19.7,-2.3],[21.4,-3.0],[23.4,-2.5],[25.3,-2.1],[26.8,-2.8],[29.1,-3.1],[30.9,-2.2],[32.7,-2.6],
  [-15.1,-4.7],[-13.6,-3.8],[-11.3,-4.2],[-9.5,-4.5],[-7.7,-4.0],[-5.6,-3.9],[-4.0,-4.6],[-1.8,-4.1],[18.9,-4.1],[20.7,-3.7],[22.8,-4.4],[24.4,-4.7],[26.6,-3.8],[28.3,-4.2],[30.3,-4.5],[32.2,-4.0],
  [-14.8,-5.6],[-12.7,-5.5],[-11.1,-6.2],[-8.9,-5.7],[-7.2,-5.3],[-5.2,-6.0],[-3.3,-6.3],[-1.8,-5.4],[0.2,-5.8],[17.9,-6.0],[19.8,-6.3],[21.3,-5.4],[23.6,-5.8],[25.4,-6.1],[27.2,-5.6],[29.3,-5.5],[30.9,-6.2],[32.8,-5.7],
  [-14.3,-7.8],[-12.1,-7.3],[-10.4,-6.9],[-8.4,-7.6],[-6.5,-7.9],[-5.0,-7.0],[-2.7,-7.4],[-0.9,-7.7],[0.9,-7.2],[16.3,-7.0],[18.1,-7.4],[19.9,-7.7],[22.0,-7.2],[23.6,-7.1],[25.8,-7.8],[27.5,-7.3],[29.5,-6.9],[31.4,-7.6],
  [-13.8,-9.0],[-12.0,-9.3],[-9.9,-8.8],[-8.3,-8.7],[-6.1,-9.4],[-4.4,-8.9],[-2.4,-8.5],[-0.5,-9.2],[1.0,-9.5],[3.3,-8.6],[13.5,-8.9],[15.5,-8.5],[17.4,-9.2],[18.9,-9.5],[21.2,-8.6],[23.0,-9.0],[24.8,-9.3],[26.9,-8.8],[28.5,-8.7],[30.7,-9.4],
  [-13.2,-10.1],[-11.5,-10.8],[-9.5,-11.1],[-7.6,-10.2],[-6.1,-10.6],[-3.8,-10.9],[-2.0,-10.4],[-0.2,-10.3],[1.9,-11.0],[3.5,-10.5],[5.7,-10.1],[7.4,-10.8],[9.4,-11.1],[11.3,-10.2],[12.8,-10.6],[15.1,-10.9],[16.9,-10.4],[18.7,-10.3],[20.8,-11.0],[22.4,-10.5],[24.6,-10.1],[26.3,-10.8],[28.3,-11.1],[30.2,-10.2],
  [-12.4,-11.8],[-10.1,-12.2],[-8.3,-12.5],[-6.5,-12.0],[-4.4,-11.9],[-2.8,-12.6],[-0.6,-12.1],[1.1,-11.7],[3.1,-12.4],[5.0,-12.7],[6.5,-11.8],[8.8,-12.2],[10.6,-12.5],[12.4,-12.0],[14.5,-11.9],[16.1,-12.6],[18.3,-12.1],[20.0,-11.7],[22.0,-12.4],[23.9,-12.7],[25.4,-11.8],[27.7,-12.2],[29.5,-12.5],
  [-11.6,-13.5],[-10.0,-14.2],[-7.8,-13.7],[-6.1,-13.3],[-4.1,-14.0],[-2.2,-14.3],[-0.7,-13.4],[1.6,-13.8],[3.4,-14.1],[5.2,-13.6],[7.3,-13.5],[8.9,-14.2],[11.1,-13.7],[12.8,-13.3],[14.8,-14.0],[16.7,-14.3],[18.2,-13.4],[20.5,-13.8],[22.3,-14.1],[24.1,-13.6],[26.2,-13.5],[27.8,-14.2],[29.6,-13.7],
  [-10.5,-15.9],[-8.6,-15.0],[-7.1,-15.4],[-4.8,-15.7],[-3.0,-15.2],[-1.2,-15.1],[0.9,-15.8],[2.5,-15.3],[4.7,-14.9],[6.4,-15.6],[8.4,-15.9],[10.3,-15.0],[11.8,-15.4],[14.1,-15.7],[15.9,-15.2],[17.7,-15.1],[19.8,-15.8],[21.4,-15.3],[23.6,-14.9],[25.3,-15.6],[27.3,-15.9],[28.5,-15.0],
  [-9.3,-17.3],[-7.2,-16.8],[-5.6,-16.7],[-3.4,-17.4],[-1.7,-16.9],[0.3,-16.5],[2.2,-17.2],[3.7,-17.5],[6.0,-16.6],[7.8,-17.0],[9.6,-17.3],[11.7,-16.8],[13.3,-16.7],[15.5,-17.4],[17.2,-16.9],[19.2,-16.5],[21.1,-17.2],[22.6,-17.5],[24.9,-16.6],[26.7,-17.0],
  [-8.0,-18.5],[-5.8,-18.1],[-4.1,-18.8],[-2.1,-19.1],[-0.2,-18.2],[1.3,-18.6],[3.6,-18.9],[5.4,-18.4],[7.2,-18.3],[9.3,-19.0],[10.9,-18.5],[13.1,-18.1],[14.8,-18.8],[16.8,-19.1],[18.7,-18.2],[20.2,-18.6],[22.5,-18.9],[24.3,-18.4],[26.1,-18.3],
  [-6.3,-20.4],[-4.8,-20.7],[-2.5,-19.8],[-0.7,-20.2],[1.1,-20.5],[3.2,-20.0],[4.8,-19.9],[7.0,-20.6],[8.7,-20.1],[10.7,-19.7],[12.6,-20.4],[14.1,-20.7],[16.4,-19.8],[18.2,-20.2],[20.0,-20.5],[22.1,-20.0],[23.7,-19.9],
  [-4.3,-21.6],[-2.5,-21.5],[-0.4,-22.2],[1.2,-21.7],[3.4,-21.3],[5.1,-22.0],[7.1,-22.3],[9.0,-21.4],[10.5,-21.8],[12.8,-22.1],[14.6,-21.6],[16.4,-21.5],[18.5,-22.2],[20.1,-21.7],[22.3,-21.3],
  [-1.8,-23.8],[0.2,-23.3],[2.1,-22.9],[3.6,-23.6],[5.9,-23.9],[7.7,-23.0],[9.5,-23.4],[11.6,-23.7],[13.2,-23.2],[15.4,-23.1],[17.1,-23.8],[19.1,-23.3],
  [1.9,-25.3],[3.8,-24.7],[5.5,-25.1],[7.6,-25.5],[9.4,-24.8],[11.1,-25.2],[13.3,-24.6],[15.2,-25.4]];
const eLowerMoonFill = [[-14.3,6.4],[-12.2,6.0],[-10.0,6.3],[-7.9,5.9],[-5.8,6.5],[22.0,6.1],[24.1,6.4],[26.3,6.0],[28.4,6.3],[30.5,5.9],
  [-15.3,4.8],[-13.2,4.4],[-11.0,4.7],[-8.9,4.3],[-6.7,4.9],[-4.6,4.5],[21.1,4.6],[23.2,5.0],[25.4,4.5],[27.5,4.7],[29.7,4.3],[31.8,4.9],
  [-15.7,3.2],[-13.6,2.8],[-11.4,3.1],[-9.3,2.7],[-7.1,3.3],[-5.0,2.9],[-2.9,3.2],[20.8,3.0],[22.9,3.4],[25.1,2.9],[27.2,3.1],[29.4,2.7],[31.5,3.3],[33.4,2.8],
  [-16.0,1.6],[-13.9,1.2],[-11.7,1.5],[-9.6,1.1],[-7.4,1.7],[-5.3,1.3],[-3.1,1.6],[21.2,1.4],[23.3,1.8],[25.5,1.3],[27.6,1.5],[29.8,1.1],[31.9,1.7],[33.7,1.2],
  [-15.8,0.0],[-13.7,-0.4],[-11.5,-0.1],[-9.4,-0.5],[-7.2,0.1],[-5.1,-0.3],[-2.9,0.0],[21.0,-0.2],[23.1,0.2],[25.3,-0.3],[27.4,-0.1],[29.6,-0.5],[31.7,0.1],[33.6,-0.4],
  [-15.9,-1.6],[-13.8,-2.0],[-11.6,-1.7],[-9.5,-2.1],[-7.3,-1.5],[-5.2,-1.9],[-3.0,-1.6],[20.3,-1.8],[22.4,-1.4],[24.6,-1.9],[26.7,-1.7],[28.9,-2.1],[31.0,-1.5],[33.1,-2.0],
  [-15.5,-3.2],[-13.4,-3.6],[-11.2,-3.3],[-9.1,-3.7],[-6.9,-3.1],[-4.8,-3.5],[-2.6,-3.2],[-1.1,-3.6],[19.6,-3.4],[21.7,-3.0],[23.9,-3.5],[26.0,-3.3],[28.2,-3.7],[30.3,-3.1],[32.5,-3.6],
  [-15.2,-4.8],[-13.1,-5.2],[-10.9,-4.9],[-8.8,-5.3],[-6.6,-4.7],[-4.5,-5.1],[-2.3,-4.8],[-0.4,-5.2],[18.6,-5.0],[20.7,-4.6],[22.9,-5.1],[25.0,-4.9],[27.2,-5.3],[29.3,-4.7],[31.5,-5.2],[33.0,-4.9],
  [-14.7,-6.4],[-12.6,-6.8],[-10.4,-6.5],[-8.3,-6.9],[-6.1,-6.3],[-4.0,-6.7],[-1.8,-6.4],[0.6,-6.8],[17.2,-6.6],[19.3,-6.2],[21.5,-6.7],[23.6,-6.5],[25.8,-6.9],[27.9,-6.3],[30.1,-6.8],[32.2,-6.5],
  [-14.1,-8.0],[-12.0,-8.4],[-9.8,-8.1],[-7.7,-8.5],[-5.5,-7.9],[-3.4,-8.3],[-1.2,-8.0],[0.9,-8.4],[2.9,-8.2],[15.0,-8.2],[17.1,-7.8],[19.3,-8.3],[21.4,-8.1],[23.6,-8.5],[25.7,-7.9],[27.9,-8.4],[30.0,-8.1],[32.0,-8.3],
  [-13.5,-9.6],[-11.4,-10.0],[-9.2,-9.7],[-7.1,-10.1],[-4.9,-9.5],[-2.8,-9.9],[-0.6,-9.6],[1.5,-10.0],[3.7,-9.8],[6.0,-10.3],[8.1,-10.4],[10.2,-10.2],[12.3,-10.4],[14.1,-9.8],[16.3,-10.2],[18.4,-9.7],[20.6,-9.9],[22.7,-9.5],[24.9,-10.1],[27.0,-9.6],[29.2,-10.0],[31.3,-9.7],
  [-12.8,-11.2],[-10.7,-11.6],[-8.5,-11.3],[-6.4,-11.7],[-4.2,-11.1],[-2.1,-11.5],[0.1,-11.2],[2.2,-11.6],[4.4,-11.4],[6.5,-11.8],[8.7,-11.3],[10.8,-11.5],[13.0,-11.1],[15.1,-11.7],[17.3,-11.2],[19.4,-11.6],[21.6,-11.3],[23.7,-11.5],[25.9,-11.1],[28.0,-11.7],[30.2,-11.4],
  [-12.0,-12.8],[-9.9,-13.2],[-7.7,-12.9],[-5.6,-13.3],[-3.4,-12.7],[-1.3,-13.1],[0.9,-12.8],[3.0,-13.2],[5.2,-13.0],[7.3,-13.4],[9.5,-12.9],[11.6,-13.1],[13.8,-12.7],[15.9,-13.3],[18.1,-12.8],[20.2,-13.2],[22.4,-12.9],[24.5,-13.1],[26.7,-12.7],[28.8,-13.3],
  [-11.1,-14.4],[-9.0,-14.8],[-6.8,-14.5],[-4.7,-14.9],[-2.5,-14.3],[-0.4,-14.7],[1.8,-14.4],[3.9,-14.8],[6.1,-14.6],[8.2,-15.0],[10.4,-14.5],[12.5,-14.7],[14.7,-14.3],[16.8,-14.9],[19.0,-14.4],[21.1,-14.8],[23.3,-14.5],[25.4,-14.7],[27.6,-14.3],[29.0,-14.9],
  [-9.9,-16.0],[-7.8,-16.4],[-5.6,-16.1],[-3.5,-16.5],[-1.3,-15.9],[0.8,-16.3],[3.0,-16.0],[5.1,-16.4],[7.3,-16.2],[9.4,-16.6],[11.6,-16.1],[13.7,-16.3],[15.9,-15.9],[18.0,-16.5],[20.2,-16.0],[22.3,-16.4],[24.5,-16.1],[26.6,-16.3],
  [-8.6,-17.6],[-6.5,-18.0],[-4.3,-17.7],[-2.2,-18.1],[0.0,-17.5],[2.1,-17.9],[4.3,-17.6],[6.4,-18.0],[8.6,-17.8],[10.7,-18.2],[12.9,-17.7],[15.0,-17.9],[17.2,-17.5],[19.3,-18.1],[21.5,-17.6],[23.6,-18.0],[25.8,-17.7],
  [-7.1,-19.2],[-5.0,-19.6],[-2.8,-19.3],[-0.7,-19.7],[1.5,-19.1],[3.6,-19.5],[5.8,-19.2],[7.9,-19.6],[10.1,-19.4],[12.2,-19.8],[14.4,-19.3],[16.5,-19.5],[18.7,-19.1],[20.8,-19.7],[23.0,-19.2],[25.0,-19.6],
  [-5.3,-20.8],[-3.2,-21.2],[-1.0,-20.9],[1.1,-21.3],[3.3,-20.7],[5.4,-21.1],[7.6,-20.8],[9.7,-21.2],[11.9,-21.0],[14.0,-21.4],[16.2,-20.9],[18.3,-21.1],[20.5,-20.7],[22.6,-21.3],
  [-3.0,-22.4],[-0.9,-22.8],[1.3,-22.5],[3.4,-22.9],[5.6,-22.3],[7.7,-22.7],[9.9,-22.4],[12.0,-22.8],[14.2,-22.6],[16.3,-23.0],[18.5,-22.5],[20.6,-22.7],
  [0.0,-24.0],[2.1,-24.4],[4.3,-24.1],[6.4,-24.5],[8.6,-23.9],[10.7,-24.3],[12.9,-24.0],[15.0,-24.4],[17.2,-24.2],
  [4.0,-25.6],[6.1,-26.0],[8.3,-25.7],[10.4,-26.1],[12.6,-25.6]];

// (f) four blocks with noises
const fNoise = [[-34.1,25.4],[-33.7,24.2],[-35.1,22.7],[-25.5,25.5],[-17.2,25.7],[-14.5,25.9],[-14.9,24.9],[-9.3,24.9],[2.1,26.0],[4.3,23.2],[14.6,25.6],[17.5,25.6],[-29.1,20.9],[-22.2,22.7],[-22.6,19.4],[0.6,19.6],[1.6,17.8],[9.3,21.2],[10.4,21.4],[28.2,20.3],[23.6,18.3],[25.1,17.0],[28.2,17.3],[15.5,16.7],[16.3,15.6],[10.8,14.8],[12.3,14.5],[19.5,17.2],[-18.0,13.7],[-17.2,13.2],[-9.2,14.3],[-8.6,14.0],[-33.3,12.9],[-33.2,11.4],[-28.2,10.0],[-22.2,11.4],[-5.5,12.3],[-3.3,10.7],[-3.1,9.5],[1.1,12.7],[4.0,12.4],[20.0,11.7],[33.0,12.3],[-5.9,8.8],[-5.0,8.0],[-3.3,6.8],[19.2,8.6],[25.2,8.0],[27.7,8.7],[27.8,7.9],[30.3,8.4],[-22.8,6.5],[-31.9,4.2],[-26.1,3.9],[12.7,5.6],[14.2,3.6],[8.1,3.5],[19.5,3.0],[20.6,3.0],[20.8,1.9],[8.3,1.5],[10.7,1.1],[12.3,0.8],[13.5,-1.3],[23.8,1.1],[25.9,2.2],[28.0,2.2],[-13.6,2.2],[-22.5,1.5],[-6.4,1.0],[-2.5,0.5],[-19.0,0.2],[-15.7,-0.3],[-14.8,-2.4],[-27.5,-3.5],[-24.2,-4.0],[-29.8,-5.1],[-17.6,-4.3],[-15.1,-5.1],[-3.1,-4.0],[-34.5,-5.6],[-33.8,-7.3],[-19.6,-7.1],[-17.6,-7.1],[-7.4,-7.2],[-4.6,-7.9],[-2.7,-8.4],[-1.5,-9.6],[-28.4,-8.8],[-24.8,-10.6],[-22.1,-9.7],[-14.8,-9.5],[20.7,-8.0],[28.1,-5.3],[28.7,-6.9],[32.4,-5.1],[-35.6,-10.8],[-35.6,-13.5],[25.5,-11.7],[28.9,-11.7],[8.4,-12.2],[-28.9,-14.8],[0.2,-13.8],[14.6,-16.0],[11.9,-16.9],[17.3,-17.3],[17.1,-17.7],[18.1,-16.3],[19.4,-14.9],[23.9,-16.4],[-20.4,-17.3],[-12.9,-17.9],[5.0,-17.9],[-18.3,-19.1],[-16.2,-20.0],[-7.9,-20.2],[-20.5,-21.0],[-35.6,-19.6],[32.3,-19.4],[30.9,-19.6],[25.1,-21.3],[28.3,-22.2],[21.5,-22.3],[13.2,-22.0],[-27.1,-23.2],[9.7,-23.5],[27.0,-24.3],[-10.6,-25.4],[-0.1,-25.0],[21.8,-25.7],[33.0,-25.1],[9.9,-26.2],[3.8,-27.5],[-18.9,-27.9],[-13.3,-27.9],[-9.6,-27.9]];
const fGreenBlock = [[-15.1,8.8],[-14.2,8.9],[-13.3,8.7],[-12.4,8.9],[-11.5,8.6],[-14.8,8.2],[-13.9,8.1],[-13.0,8.3],[-12.1,8.0],[-11.2,8.2],[-15.2,7.6],[-14.4,7.4],[-13.5,7.7],[-12.6,7.5],[-11.7,7.6],[-11.1,7.2],[-14.9,6.9],[-14.0,6.8],[-13.1,7.0],[-12.2,6.8],[-11.4,6.6],[-15.0,6.2],[-14.3,6.0],[-13.4,6.3],[-12.5,6.1],[-11.6,6.2],[-14.6,5.6],[-13.7,5.5],[-12.8,5.7],[-11.9,5.6],[-14.5,8.5],[-12.8,8.4],[-13.7,7.2],[-12.0,7.1],[-14.7,6.5],[-13.0,6.5],[-12.3,5.8],[-11.3,7.9],[-13.6,6.0],[-15.2,7.0]];
const fYellowBlock = [[7.7,11.0],[8.7,11.1],[9.7,10.9],[10.7,11.1],[11.7,10.8],[12.3,11.0],[7.9,10.3],[8.9,10.4],[9.9,10.2],[10.9,10.5],[11.9,10.3],[7.6,9.7],[8.5,9.6],[9.5,9.8],[10.5,9.5],[11.4,9.7],[12.4,9.5],[8.0,8.9],[9.0,8.8],[10.0,9.0],[11.0,8.8],[12.0,9.0],[7.7,8.2],[8.6,8.1],[9.6,8.3],[10.6,8.0],[11.6,8.2],[12.4,8.4],[8.2,7.4],[9.2,7.5],[10.2,7.3],[11.2,7.5],[8.3,10.8],[10.2,10.7],[9.3,9.2],[11.1,9.3],[8.1,8.6],[10.9,7.9],[12.2,9.9],[9.6,7.8]];
const fMagentaBlock = [[6.9,-3.6],[7.9,-3.5],[8.9,-3.7],[9.9,-3.5],[10.9,-3.7],[11.5,-3.9],[7.2,-4.3],[8.2,-4.2],[9.2,-4.4],[10.2,-4.1],[11.2,-4.3],[6.8,-4.9],[7.7,-5.0],[8.7,-4.8],[9.7,-5.1],[10.7,-4.9],[11.6,-5.1],[7.3,-5.6],[8.3,-5.7],[9.3,-5.5],[10.3,-5.8],[11.3,-5.6],[6.9,-6.3],[7.8,-6.4],[8.8,-6.2],[9.8,-6.5],[10.8,-6.3],[11.6,-6.6],[7.4,-7.0],[8.4,-7.2],[9.4,-7.0],[10.4,-7.3],[11.2,-7.1],[7.5,-4.6],[9.5,-4.5],[8.5,-6.0],[10.5,-6.0],[9.0,-7.4],[11.0,-5.3],[7.1,-5.3]];
const fRedBlock = [[-12.3,-11.7],[-11.3,-11.6],[-10.3,-11.8],[-9.3,-11.6],[-8.3,-11.8],[-7.7,-12.0],[-12.0,-12.4],[-11.0,-12.3],[-10.0,-12.5],[-9.0,-12.2],[-8.0,-12.4],[-12.4,-13.0],[-11.5,-13.1],[-10.5,-12.9],[-9.5,-13.2],[-8.5,-13.0],[-7.6,-13.2],[-11.9,-13.7],[-10.9,-13.8],[-9.9,-13.6],[-8.9,-13.9],[-7.9,-13.7],[-12.3,-14.4],[-11.4,-14.5],[-10.4,-14.3],[-9.4,-14.6],[-8.4,-14.4],[-7.6,-14.7],[-12.0,-15.1],[-11.0,-15.3],[-10.0,-15.1],[-9.0,-15.4],[-8.1,-15.2],[-11.7,-12.0],[-9.8,-12.1],[-10.7,-14.0],[-8.7,-14.1],[-11.2,-15.0],[-9.4,-13.3],[-12.4,-13.6]];

// captions
const captionLabels = ['(a)', '(b)', '(c)', '(d)', '(e)', '(f)'];
const captionTexts = ['Dataset 1: three circles', 'Dataset 2: smile faces', 'Dataset 3: three parts',
  'Dataset 4: two blocks in', 'Dataset 5: two moons', 'Dataset 6: four blocks'];
const captionSecondLines = ['', '', '', 'a circle', '', 'with noises'];

const BLUE = '#0000ff', RED = '#ff0000', GREEN = '#00ff00', YELLOW = '#ffff00', MAGENTA = '#ff00ff';
const PAD = 4;

const panels = [
  { box: [12, 2, 237, 187], x: [-35.7, 35.7], y: [-28.2, 28.2], xTicks: [-17.8, 0, 17.8], yTicks: [-14, 0, 14],
    series: [[aOuter, BLUE], [aMiddle, RED], [aInner, GREEN]] },
  { box: [331, 2, 238, 188], x: [-35.8, 35.7], y: [-32.4, 24.0], xTicks: [-17.8, 0, 17.8], yTicks: [-20.2, 0, 20],
    series: [[bMouth, GREEN], [bLeftEye, RED], [bRightEye, BLUE]] },
  { box: [650, 2, 237, 187], x: [-35.5, 35.6], y: [-31.1, 25.0], xTicks: [0], yTicks: [0],
    series: [[cArc, GREEN], [cFalling, RED], [cRising, RED], [cRing, BLUE]] },
  { box: [7, 257, 239, 188], x: [-35.9, 35.8], y: [-28.3, 28.1], xTicks: [0], yTicks: [0],
    series: [[dRing, GREEN], [dTopBlock, RED], [dBottomBlock, BLUE]] },
  { box: [327, 257, 238, 188], x: [-35.6, 35.8], y: [-28.3, 28.1], xTicks: [0], yTicks: [0],
    series: [[eUpperMoon, RED], [eUpperMoonFill, RED], [eLowerMoon, GREEN], [eLowerMoonFill, GREEN]] },
  { box: [646, 257, 238, 187], x: [-35.8, 35.6], y: [-28.0, 28.1], xTicks: [-17.7, 0, 17.8], yTicks: [-14, 0, 14.2],
    series: [[fNoise, BLUE], [fGreenBlock, GREEN], [fYellowBlock, YELLOW], [fMagentaBlock, MAGENTA], [fRedBlock, RED]] }
];

// box frame with inward ticks on all four sides
const framePlugin = {
  id: 'frame',
  afterDatasetsDraw(chart, args, opts) {
    const { ctx, chartArea: a, scales: { x, y } } = chart;
    ctx.save();
    ctx.strokeStyle = '#3a3a3a';
    ctx.lineWidth = 1.3;
    ctx.strokeRect(a.left, a.top, a.right - a.left, a.bottom - a.top);
    ctx.beginPath();
    opts.xTicks.forEach(v => {
      const px = x.getPixelForValue(v);
      ctx.moveTo(px, a.bottom); ctx.lineTo(px, a.bottom - 3.5);
      ctx.moveTo(px, a.top); ctx.lineTo(px, a.top + 3.5);
    });
    opts.yTicks.forEach(v => {
      const py = y.getPixelForValue(v);
      ctx.moveTo(a.left, py); ctx.lineTo(a.left + 3.5, py);
      ctx.moveTo(a.right, py); ctx.lineTo(a.right - 3.5, py);
    });
    ctx.stroke();
    ctx.restore();
  }
};

panels.forEach(p => {
  const [left, top, w, h] = p.box;
  const canvas = document.createElement('canvas');
  canvas.width = w + 2 * PAD;
  canvas.height = h + 2 * PAD;
  canvas.style.left = (left - PAD) + 'px';
  canvas.style.top = (top - PAD) + 'px';
  document.body.appendChild(canvas);

  new Chart(canvas, {
    type: 'scatter',
    data: {
      datasets: p.series.map(([pts, color]) => ({
        data: pts.map(([x, y]) => ({ x, y })),
        backgroundColor: color,
        borderWidth: 0,
        pointStyle: 'rect',
        pointRadius: 1.6
      }))
    },
    options: {
      responsive: false,
      animation: false,
      devicePixelRatio: 1,
      events: [],
      layout: { padding: PAD },
      scales: {
        x: { type: 'linear', min: p.x[0], max: p.x[1], display: false },
        y: { type: 'linear', min: p.y[0], max: p.y[1], display: false }
      },
      plugins: {
        legend: { display: false },
        tooltip: { enabled: false },
        frame: { xTicks: p.xTicks, yTicks: p.yTicks }
      }
    },
    plugins: [framePlugin]
  });
});

// captions under each panel; the (d) and (f) first lines are justified
const capPos = [
  { lab: [10, 207], txt: [45, 211] },
  { lab: [342, 207], txt: [380, 211] },
  { lab: [656, 207], txt: [686, 211] },
  { lab: [6, 460.5], txt: [47, 464.4], width: 199 },
  { lab: [342, 460.5], txt: [377, 464.4] },
  { lab: [644, 460.5], txt: [678, 464.4], width: 201 }
];
capPos.forEach((c, i) => {
  const lab = document.createElement('div');
  lab.className = 'lab';
  lab.textContent = captionLabels[i];
  lab.style.left = c.lab[0] + 'px';
  lab.style.top = c.lab[1] + 'px';
  document.body.appendChild(lab);

  const txt = document.createElement('div');
  txt.className = 'cap';
  txt.style.left = c.txt[0] + 'px';
  txt.style.top = c.txt[1] + 'px';
  if (c.width) {
    txt.classList.add('just');
    txt.style.width = c.width + 'px';
    captionTexts[i].split(' ').forEach(word => {
      const s = document.createElement('span');
      s.textContent = word;
      txt.appendChild(s);
    });
  } else {
    txt.textContent = captionTexts[i];
  }
  document.body.appendChild(txt);

  if (captionSecondLines[i]) {
    const second = document.createElement('div');
    second.className = 'cap';
    second.textContent = captionSecondLines[i];
    second.style.left = (c.lab[0] + 1) + 'px';
    second.style.top = '489.4px';
    document.body.appendChild(second);
  }
});
</script>
</body>
</html>
